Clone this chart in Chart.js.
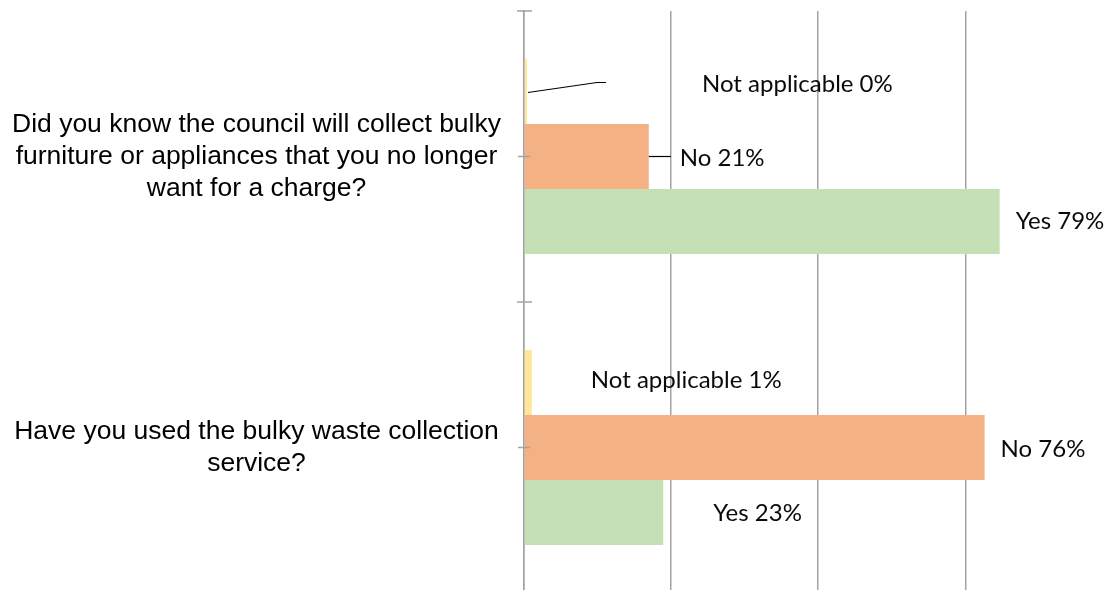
<!DOCTYPE html>
<html>
<head>
<meta charset="utf-8">
<script src="https://cdn.jsdelivr.net/npm/chart.js@4.4.1/dist/chart.umd.min.js"></script>
<style>
  html, body { margin: 0; padding: 0; background: #fff; overflow: hidden; }
  #wrap { position: relative; width: 1107px; height: 593px; }
</style>
</head>
<body>
<div id="wrap"><canvas id="bulkyChart"></canvas></div>
<script>
// Survey questions (y categories), one array per line of text
const questions = [
    ['Did you know the council will collect bulky', 'furniture or appliances that you no longer', 'want for a charge?'],
    ['Have you used the bulky waste collection', 'service?'],
];

// Answer series (percent of respondents)
const seriesNames = ['Not applicable', 'No', 'Yes'];
const notApplicable = [0.49, 1.3];
const noAnswers = [20.7, 76.4];
const yesAnswers = [78.9, 23.1];

// Hidden x axis: gridline positions and range
const gridTicks = [0, 24.4, 48.8, 73.2];
const xMax = 96.7;

const barColors = ['#ffe699', '#f4b183', '#c5e0b4'];
const axisGray = '#a3a3a3';

// Label placement for each bar, relative to the end of the bar (dx, dy)
// leader = optional polyline from the bar end
const labelPlacement = [
    [ { dx: 175, dy: -7, leader: [[1, 1], [70, -9], [79, -9]] }, { dx: 59, dy: -2 } ],
    [ { dx: 31, dy: 2, leader: [[0, 0], [22, 0]] }, { dx: 16, dy: 2 } ],
    [ { dx: 16, dy: 0 }, { dx: 50, dy: 1 } ],
];

// Tick marks crossing the category axis (boundaries and centres)
const axisTicksPlugin = {
    id: 'axisTicks',
    afterDraw(chart) {
        const ctx = chart.ctx;
        const y = chart.scales.y;
        const x0 = chart.chartArea.left;
        const half = (y.getPixelForValue(1) - y.getPixelForValue(0)) / 2;
        ctx.save();
        ctx.strokeStyle = axisGray;
        ctx.lineWidth = 1.5;
        for (let i = 0; i < questions.length; i++) {
            const c = y.getPixelForValue(i);
            ctx.beginPath();
            ctx.moveTo(x0 - 7, c - half);
            ctx.lineTo(x0 + 8, c - half);
            ctx.moveTo(x0 - 6, c);
            ctx.lineTo(x0 + 6, c);
            ctx.stroke();
        }
        ctx.restore();
    },
};

// Data labels "Series NN%" with leader lines
const barLabelsPlugin = {
    id: 'barLabels',
    afterDatasetsDraw(chart) {
        const ctx = chart.ctx;
        ctx.save();
        ctx.font = '24px Lato, "Open Sans", sans-serif';
        ctx.fillStyle = '#0a0a0a';
        ctx.strokeStyle = '#000';
        ctx.lineWidth = 1.2;
        ctx.textAlign = 'left';
        ctx.textBaseline = 'middle';
        chart.data.datasets.forEach((ds, di) => {
            chart.getDatasetMeta(di).data.forEach((bar, i) => {
                const p = labelPlacement[di][i];
                const ex = bar.x;
                const ey = bar.y;
                if (p.leader) {
                    ctx.beginPath();
                    p.leader.forEach(([lx, ly], k) => {
                        if (k === 0) ctx.moveTo(ex + lx, ey + ly);
                        else ctx.lineTo(ex + lx, ey + ly);
                    });
                    ctx.stroke();
                }
                const text = `${ds.label} ${Math.round(ds.data[i])}%`;
                ctx.fillText(text, ex + p.dx, ey + p.dy);
            });
        });
        ctx.restore();
    },
};

function initChart() {
    const ctx = document.getElementById('bulkyChart');
    const values = [notApplicable, noAnswers, yesAnswers];

    new Chart(ctx, {
        type: 'bar',
        data: {
            labels: questions,
            datasets: seriesNames.map((name, i) => ({
                label: name,
                data: values[i],
                backgroundColor: barColors[i],
                borderWidth: 0,
                categoryPercentage: 0.67,
                barPercentage: 1.0,
            })),
        },
        options: {
            indexAxis: 'y',
            responsive: true,
            maintainAspectRatio: false,
            animation: false,
            layout: { padding: { top: 11, right: 0, bottom: 0, left: 0 } },
            plugins: {
                legend: { display: false },
                tooltip: { enabled: false },
            },
            scales: {
                x: {
                    min: 0,
                    max: xMax,
                    afterBuildTicks(scale) {
                        scale.ticks = gridTicks.map(v => ({ value: v }));
                    },
                    afterFit(scale) {
                        scale.height = 0;
                        scale.paddingLeft = 0;
                        scale.paddingRight = 0;
                    },
                    ticks: { display: false },
                    border: { display: false },
                    grid: {
                        color: axisGray,
                        lineWidth: 1.5,
                        drawTicks: false,
                    },
                },
                y: {
                    afterFit(scale) {
                        scale.width = 524;
                        scale.paddingTop = 0;
                        scale.paddingBottom = 0;
                    },
                    grid: { display: false },
                    border: { display: true, color: axisGray, width: 1.5 },
                    ticks: {
                        crossAlign: 'center',
                        padding: 15,
                        color: '#000',
                        font: {
                            family: '"Liberation Sans", Arial, sans-serif',
                            size: 26.5,
                            lineHeight: 1.21,
                        },
                    },
                },
            },
        },
        plugins: [axisTicksPlugin, barLabelsPlugin],
    });
}

initChart();
</script>
</body>
</html>
